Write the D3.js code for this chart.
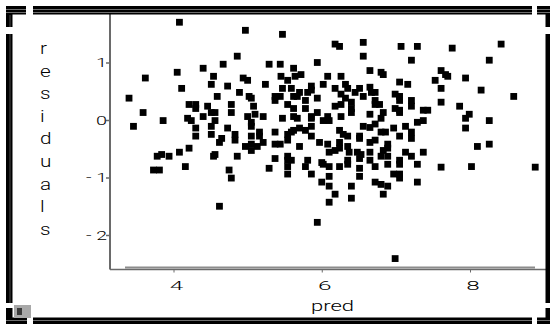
<!DOCTYPE html>
<html>
<head>
<meta charset="utf-8">
<script src="https://cdn.jsdelivr.net/npm/d3@7"></script>
<style>
  body { margin: 0; background: #fff; }
  svg { display: block; }
</style>
</head>
<body>
<div id="chart"></div>
<script>
// Data.
const pred = [
  4.08, 4.05, 3.62, 4.11, 3.40, 4.21, 4.30, 4.30, 3.59, 3.86, 4.19, 4.24, 3.46, 4.30, 4.30, 4.21, 4.08, 3.94, 3.84, 3.78,
  4.16, 3.73, 3.81, 4.97, 5.47, 4.86, 4.67, 5.29, 5.44, 4.40, 4.54, 4.94, 5.00, 5.45, 4.51, 4.73, 5.24, 4.89, 5.47, 4.59,
  5.02, 5.05, 5.37, 5.44, 5.37, 4.78, 5.08, 4.46, 4.51, 4.56, 4.78, 5.10, 5.00, 5.21, 4.40, 4.56, 5.05, 5.47, 5.05, 4.51,
  4.73, 4.51, 4.83, 5.16, 5.37, 5.05, 5.16, 4.65, 4.83, 4.62, 5.21, 5.37, 5.44, 4.97, 5.05, 5.13, 5.05, 4.56, 4.54, 4.86,
  5.37, 5.29, 4.75, 4.78, 4.62, 6.18, 6.24, 6.56, 6.56, 5.94, 5.62, 5.72, 5.64, 6.08, 6.26, 6.65, 5.54, 6.02, 6.32, 5.86,
  5.59, 6.18, 6.35, 6.51, 6.65, 5.70, 5.81, 5.86, 6.45, 6.26, 5.62, 5.67, 6.56, 5.78, 5.94, 6.32, 6.26, 6.40, 5.54, 6.18,
  5.62, 5.78, 6.40, 5.94, 6.40, 5.86, 6.08, 6.26, 6.65, 5.62, 5.67, 5.86, 6.02, 6.10, 5.86, 5.70, 6.56, 6.65, 5.62, 5.78,
  6.24, 5.54, 5.59, 5.86, 6.29, 6.35, 6.51, 5.54, 6.51, 5.97, 6.08, 6.24, 5.70, 6.35, 6.65, 6.24, 6.10, 6.18, 6.37, 6.48,
  6.53, 5.54, 6.65, 5.54, 5.59, 5.81, 6.00, 6.35, 6.51, 6.65, 5.78, 6.02, 6.10, 6.24, 6.35, 5.54, 5.54, 5.86, 6.10, 6.51,
  6.51, 6.00, 6.10, 6.40, 6.18, 6.40, 6.10, 5.94, 7.07, 7.29, 7.76, 7.21, 6.80, 6.83, 7.61, 7.67, 7.70, 7.53, 7.05, 7.16,
  7.61, 6.67, 6.72, 6.99, 7.05, 7.21, 6.72, 7.05, 7.61, 6.72, 6.78, 7.21, 6.99, 7.05, 7.37, 7.43, 6.83, 7.05, 6.80, 7.37,
  7.29, 6.72, 7.13, 6.97, 7.21, 6.80, 6.86, 7.05, 7.21, 6.72, 6.89, 6.83, 6.89, 7.13, 7.37, 7.21, 6.80, 6.89, 7.05, 6.72,
  6.89, 7.05, 7.29, 7.61, 6.97, 7.05, 7.05, 6.72, 6.80, 6.89, 7.29, 6.83, 6.99, 8.42, 8.26, 7.94, 8.15, 8.59, 7.86, 7.99,
  7.94, 8.26, 7.94, 8.10, 8.26, 8.02, 8.88
];
const residuals = [
  1.70, 0.83, 0.73, 0.55, 0.38, 0.27, 0.27, 0.20, 0.13, -0.01, 0.03, -0.01, -0.11, -0.14, -0.28, -0.49, -0.56, -0.63, -0.60, -0.63,
  -0.81, -0.87, -0.87, 1.56, 1.49, 1.11, 0.97, 0.97, 0.97, 0.90, 0.76, 0.73, 0.69, 0.76, 0.62, 0.59, 0.62, 0.48, 0.55, 0.41,
  0.41, 0.38, 0.41, 0.41, 0.34, 0.27, 0.24, 0.24, 0.13, 0.13, 0.13, 0.10, 0.06, 0.06, 0.06, -0.01, -0.04, 0.03, -0.11, -0.11,
  -0.14, -0.25, -0.25, -0.21, -0.21, -0.28, -0.28, -0.32, -0.35, -0.39, -0.39, -0.42, -0.42, -0.46, -0.42, -0.46, -0.53, -0.60, -0.63, -0.63,
  -0.67, -0.84, -0.87, -1.01, -1.50, 1.32, 1.28, 1.35, 1.11, 1.00, 0.90, 0.79, 0.76, 0.76, 0.76, 0.86, 0.69, 0.62, 0.62, 0.59,
  0.55, 0.55, 0.55, 0.55, 0.57, 0.48, 0.48, 0.52, 0.48, 0.45, 0.41, 0.41, 0.41, 0.34, 0.38, 0.38, 0.27, 0.31, 0.27, 0.24,
  0.20, 0.20, 0.20, 0.13, 0.13, 0.06, 0.06, 0.06, 0.10, 0.06, 0.03, 0.03, -0.01, -0.01, -0.11, -0.14, -0.11, -0.13, -0.18, -0.18,
  -0.18, -0.25, -0.21, -0.28, -0.25, -0.28, -0.28, -0.35, -0.32, -0.39, -0.42, -0.39, -0.46, -0.46, -0.39, -0.49, -0.56, -0.53, -0.56, -0.56,
  -0.60, -0.63, -0.56, -0.70, -0.70, -0.70, -0.74, -0.70, -0.67, -0.70, -0.81, -0.77, -0.81, -0.81, -0.77, -0.81, -0.94, -0.94, -0.98, -0.84,
  -0.98, -1.08, -1.15, -1.15, -1.29, -1.36, -1.43, -1.78, 1.28, 1.28, 1.25, 1.04, 0.83, 0.79, 0.86, 0.79, 0.76, 0.69, 0.66, 0.62,
  0.55, 0.48, 0.48, 0.45, 0.41, 0.34, 0.34, 0.34, 0.31, 0.27, 0.27, 0.24, 0.20, 0.17, 0.17, 0.17, 0.13, 0.13, 0.03, -0.01,
  -0.04, -0.07, -0.11, -0.14, -0.21, -0.21, -0.21, -0.28, -0.32, -0.35, -0.42, -0.53, -0.49, -0.56, -0.56, -0.63, -0.63, -0.63, -0.70, -0.81,
  -0.77, -0.77, -0.77, -0.82, -0.94, -0.94, -1.01, -1.08, -1.12, -1.15, -1.08, -1.29, -2.41, 1.32, 1.04, 0.73, 0.52, 0.41, 0.24, 0.10,
  0.03, -0.01, -0.14, -0.46, -0.42, -0.81, -0.82
];
const xTicks = [4, 6, 8];
const yTicks = [-2, -1, 0, 1];
const xLabel = 'pred';
const yLabel = 'residuals';

const width = 550, height = 324;
const plot = {left: 110, right: 547, top: 14, bottom: 269.5};
const font = 'Roboto, "Liberation Sans", Arial, sans-serif';

const svg = d3.select('#chart').append('svg')
    .attr('width', width)
    .attr('height', height);

const x = d3.scaleLinear().domain([4, 8]).range([173.5, 470]);
const y = d3.scaleLinear().domain([-2, 1]).range([235, 62.5]);

// Axis lines (the plot has no box, only a left and a bottom line).
svg.append('line')
    .attr('x1', plot.left).attr('x2', plot.left)
    .attr('y1', plot.top).attr('y2', plot.bottom)
    .attr('stroke', '#6a6a6a').attr('stroke-width', 2);
svg.append('line')
    .attr('x1', 125).attr('x2', 535)
    .attr('y1', 267.6).attr('y2', 267.6)
    .attr('stroke', '#8c8c8c').attr('stroke-width', 2);
svg.append('line')
    .attr('x1', plot.left).attr('x2', plot.right)
    .attr('y1', plot.bottom).attr('y2', plot.bottom)
    .attr('stroke', '#6a6a6a').attr('stroke-width', 1.5);

// Y axis ticks and labels.
const yAxis = svg.append('g')
    .attr('transform', 'translate(' + plot.left + ',0)')
    .call(d3.axisLeft(y).tickValues(yTicks).tickSize(4).tickPadding(-1)
        .tickFormat(function (d) { return d < 0 ? '- ' + Math.abs(d) : String(d); }));
yAxis.select('.domain').remove();
yAxis.selectAll('line').attr('stroke', '#6a6a6a').attr('stroke-width', 1.5);
yAxis.selectAll('text')
    .attr('font-family', font)
    .attr('font-weight', 300)
    .attr('font-size', 13)
    .attr('fill', '#000')
    .attr('textLength', function (d) { return d < 0 ? 21 : 11; })
    .attr('lengthAdjust', 'spacingAndGlyphs');

// X axis ticks and labels.
const xAxis = svg.append('g')
    .attr('transform', 'translate(0,' + plot.bottom + ')')
    .call(d3.axisBottom(x).tickValues(xTicks).tickSize(3).tickPadding(8)
        .tickFormat(d3.format('d')));
xAxis.select('.domain').remove();
xAxis.selectAll('line').attr('stroke', '#6a6a6a');
xAxis.selectAll('text')
    .attr('x', 2.5)
    .attr('font-family', font)
    .attr('font-weight', 300)
    .attr('font-size', 13)
    .attr('fill', '#000')
    .attr('textLength', 13.5)
    .attr('lengthAdjust', 'spacingAndGlyphs');

// Axis titles.
svg.append('text')
    .attr('x', 332.5).attr('y', 311)
    .attr('text-anchor', 'middle')
    .attr('font-family', font)
    .attr('font-weight', 300)
    .attr('font-size', 15)
    .attr('textLength', 43)
    .attr('lengthAdjust', 'spacingAndGlyphs')
    .text(xLabel);
svg.append('g').selectAll('text')
    .data(yLabel.split(''))
    .join('text')
    .attr('transform', function (d, i) { return 'translate(40,' + (54 + i * 22.6) + ') scale(1.22,1)'; })
    .attr('font-family', font)
    .attr('font-weight', 300)
    .attr('font-size', 17)
    .text(function (d) { return d; });

// Points.
svg.append('g').selectAll('rect')
    .data(d3.range(pred.length))
    .join('rect')
    .attr('x', function (i) { return x(pred[i]) - 3.4; })
    .attr('y', function (i) { return y(residuals[i]) - 3.4; })
    .attr('width', 6.8)
    .attr('height', 6.8)
    .attr('fill', '#000');

// Window frame round the chart.
const frame = svg.append('g');
const bars = [
    [6, 6, 544, 8.5],     // top
    [6, 6, 6.5, 318],     // left
    [545.5, 6, 4.5, 318], // right
    [6, 317.5, 544, 6.5]  // bottom
];
frame.selectAll('rect.bar')
    .data(bars)
    .join('rect')
    .attr('class', 'bar')
    .attr('x', function (d) { return d[0]; })
    .attr('y', function (d) { return d[1]; })
    .attr('width', function (d) { return d[2]; })
    .attr('height', function (d) { return d[3]; })
    .attr('fill', '#000');
// Grey stripes inside the bars.
[[6, 9.5, 550, 9.5], [6, 12.5, 550, 12.5], [6, 320.5, 550, 320.5]].forEach(function (l) {
    frame.append('line')
        .attr('x1', l[0]).attr('y1', l[1]).attr('x2', l[2]).attr('y2', l[3])
        .attr('stroke', '#6e6e6e').attr('stroke-width', 1);
});
frame.append('line')
    .attr('x1', 10).attr('y1', 15).attr('x2', 10).attr('y2', 303)
    .attr('stroke', '#4a4a4a').attr('stroke-width', 1);
// White notches near the corners.
const notches = [
    [26, 5, 7, 10], [532, 5, 5, 10],
    [5, 27, 8, 7], [544, 27, 7, 7],
    [5, 303, 12, 5], [544, 303, 7, 5],
    [27, 316, 6, 9], [532, 316, 5, 9]
];
frame.selectAll('rect.notch')
    .data(notches)
    .join('rect')
    .attr('class', 'notch')
    .attr('x', function (d) { return d[0]; })
    .attr('y', function (d) { return d[1]; })
    .attr('width', function (d) { return d[2]; })
    .attr('height', function (d) { return d[3]; })
    .attr('fill', '#fff');
// Small grey box in the lower left corner.
frame.append('rect')
    .attr('x', 14).attr('y', 305).attr('width', 17).attr('height', 13)
    .attr('fill', '#a8a8a8');
frame.append('rect')
    .attr('x', 17).attr('y', 308).attr('width', 5).attr('height', 7)
    .attr('fill', '#3a3a3a');
</script>
</body>
</html>
